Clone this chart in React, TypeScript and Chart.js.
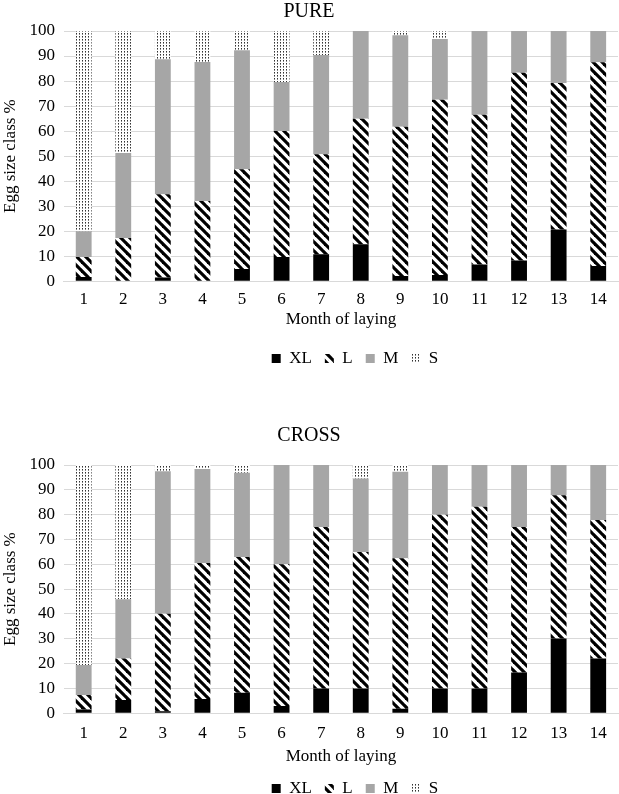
import React, { useEffect, useRef } from 'react';
import { Chart, registerables } from 'chart.js';
Chart.register(...registerables);

const months = ['1', '2', '3', '4', '5', '6', '7', '8', '9', '10', '11', '12', '13', '14'];
const seriesNames = ['XL', 'L', 'M', 'S'];

const pureXL = [1.7, 0, 1.5, 0, 4.9, 9.7, 10.8, 14.8, 2.1, 2.5, 6.7, 8.3, 20.7, 6.1];
const pureL = [8.0, 17.3, 33.3, 32.1, 39.8, 50.3, 39.9, 50.1, 59.6, 70.0, 59.8, 75.0, 58.5, 81.4];
const pureM = [10.3, 33.9, 53.9, 55.5, 47.6, 19.6, 39.7, 35.1, 36.6, 24.3, 33.5, 16.7, 20.8, 12.5];
const pureS = [80.0, 48.8, 11.3, 12.4, 7.7, 20.4, 9.6, 0, 1.7, 3.2, 0, 0, 0, 0];

const crossXL = [1.5, 5.3, 0.8, 5.7, 8.2, 2.9, 10.0, 10.0, 1.8, 10.0, 10.0, 16.4, 30.1, 22.0];
const crossL = [5.8, 16.7, 39.3, 54.8, 54.7, 57.1, 65.0, 54.9, 60.6, 70.0, 73.2, 58.6, 57.7, 55.8];
const crossM = [12.1, 23.9, 57.4, 37.9, 34.0, 40.0, 25.0, 29.7, 34.9, 20.0, 16.8, 25.0, 12.2, 22.2];
const crossS = [80.6, 54.1, 2.5, 1.6, 3.1, 0, 0, 5.4, 2.7, 0, 0, 0, 0, 0];

const FONT = "'Liberation Serif', 'Times New Roman', serif";

function stripePattern(): CanvasPattern | string {
  const c = document.createElement('canvas');
  c.width = 9;
  c.height = 9;
  const g = c.getContext('2d');
  if (!g) return '#000';
  g.fillStyle = '#fff';
  g.fillRect(0, 0, 9, 9);
  g.strokeStyle = '#000';
  g.lineWidth = 3.2;
  for (const k of [-9, 0, 9]) {
    g.beginPath();
    g.moveTo(-3, -3 + k);
    g.lineTo(12, 12 + k);
    g.stroke();
  }
  return g.createPattern(c, 'repeat') || '#000';
}

function dotPattern(): CanvasPattern | string {
  const c = document.createElement('canvas');
  c.width = 3;
  c.height = 3;
  const g = c.getContext('2d');
  if (!g) return '#ccc';
  g.fillStyle = '#fff';
  g.fillRect(0, 0, 3, 3);
  g.fillStyle = '#333';
  g.fillRect(1, 0, 1, 1);
  g.fillStyle = '#888';
  g.fillRect(1, 1, 1, 1);
  return g.createPattern(c, 'repeat') || '#ccc';
}

const legendShift = {
  id: 'legendShift',
  afterLayout(chart: any, _args: any, opts: any) {
    const lg = chart.legend;
    if (!lg) return;
    const dx = (opts && opts.dx) || 0;
    lg.left += dx;
    lg.right += dx;
    if (lg.legendHitBoxes) lg.legendHitBoxes.forEach((h: any) => (h.left += dx));
  },
};

type Cfg = {
  title: string;
  xl: number[];
  l: number[];
  m: number[];
  s: number[];
  pad: { top: number; bottom: number };
  titleBottom: number;
  axisTitlePad: { top: number; bottom: number };
  tickPad: number;
};

function BarChart({ cfg, height }: { cfg: Cfg; height: number }) {
  const ref = useRef<HTMLCanvasElement>(null);
  useEffect(() => {
    if (!ref.current) return;
    const stripes = stripePattern();
    const dots = dotPattern();
    const fills = ['#000000', stripes, '#a6a6a6', dots];
    const vals = [cfg.xl, cfg.l, cfg.m, cfg.s];
    const chart = new Chart(ref.current, {
      type: 'bar',
      plugins: [legendShift],
      data: {
        labels: months,
        datasets: seriesNames.map((n, i) => ({
          label: n,
          data: vals[i],
          backgroundColor: fills[i] as any,
          borderWidth: 0,
          categoryPercentage: 1,
          barPercentage: 0.4,
        })),
      },
      options: {
        responsive: false,
        animation: false,
        layout: { padding: { top: cfg.pad.top, bottom: cfg.pad.bottom, left: 0, right: 1 } },
        plugins: {
          legendShift: { dx: 46 },
          title: {
            display: true,
            text: cfg.title,
            color: '#000',
            font: { family: FONT, size: 20, weight: 'normal' },
            padding: { top: 0, bottom: cfg.titleBottom },
          },
          legend: {
            position: 'bottom',
            labels: {
              boxWidth: 9,
              boxHeight: 9,
              padding: 13,
              color: '#000',
              font: { family: FONT, size: 17 },
            },
          },
          tooltip: { enabled: false },
        } as any,
        scales: {
          x: {
            stacked: true,
            grid: { display: false, drawTicks: false },
            border: { color: '#d9d9d9', width: 1 },
            ticks: { color: '#000', font: { family: FONT, size: 17 }, padding: cfg.tickPad },
            title: {
              display: true,
              text: 'Month of laying',
              color: '#000',
              font: { family: FONT, size: 17 },
              padding: cfg.axisTitlePad,
            },
          },
          y: {
            stacked: true,
            min: 0,
            max: 100,
            grid: { color: '#d9d9d9', drawTicks: false },
            border: { display: false },
            ticks: {
              stepSize: 10,
              autoSkip: false,
              color: '#000',
              font: { family: FONT, size: 17 },
              padding: 9,
            },
            title: {
              display: true,
              text: 'Egg size class %',
              color: '#000',
              font: { family: FONT, size: 17 },
              padding: 0,
            },
          },
        },
      },
    });
    return () => chart.destroy();
  }, [cfg]);
  return <canvas ref={ref} width={619} height={height} style={{ display: 'block' }} />;
}

const pureCfg: Cfg = {
  title: 'PURE',
  xl: pureXL,
  l: pureL,
  m: pureM,
  s: pureS,
  pad: { top: 0, bottom: 23 },
  titleBottom: 7,
  axisTitlePad: { top: -8, bottom: 7 },
  tickPad: 8,
};

const crossCfg: Cfg = {
  title: 'CROSS',
  xl: crossXL,
  l: crossL,
  m: crossM,
  s: crossS,
  pad: { top: 24, bottom: 10 },
  titleBottom: 17,
  axisTitlePad: { top: -7, bottom: 0 },
  tickPad: 10,
};

export default function App() {
  return (
    <div
      style={{
        position: 'absolute',
        left: 0,
        top: 0,
        width: 619,
        height: 794,
        overflow: 'hidden',
        background: '#fff',
      }}
    >
      <BarChart cfg={pureCfg} height={400} />
      <BarChart cfg={crossCfg} height={417} />
    </div>
  );
}
